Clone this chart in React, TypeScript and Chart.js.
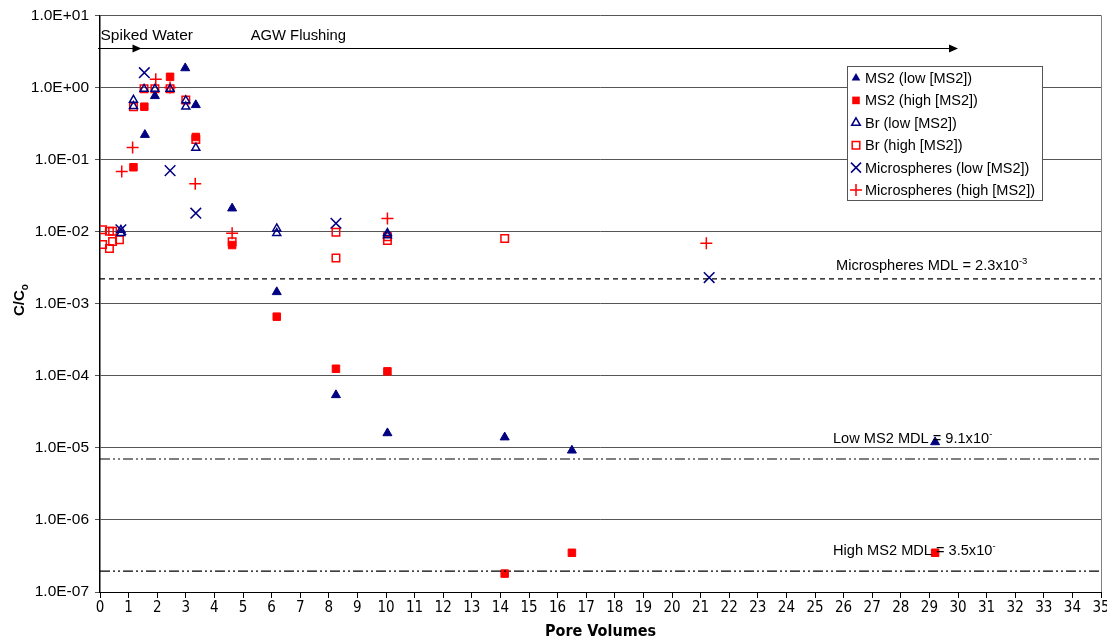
import React, { useEffect, useRef } from "react";
import { Chart, registerables } from "chart.js";

Chart.register(...registerables);

// ---- data ----
const ms2LowX = [1.57, 1.92, 2.98, 3.35, 4.62, 6.18, 8.25, 10.05, 14.15, 16.5, 29.2];
const ms2LowY = [0.22, 0.76, 1.85, 0.57, 0.021, 0.00145, 5.4e-5, 1.6e-5, 1.4e-5, 9.2e-6, 1.2e-5];

const ms2HighX = [1.17, 1.55, 2.45, 3.35, 4.62, 6.18, 8.25, 10.05, 14.15, 16.5, 29.2];
const ms2HighY = [0.078, 0.54, 1.4, 0.205, 0.0065, 0.00066, 1.25e-4, 1.15e-4, 1.8e-7, 3.5e-7, 3.5e-7];

const brLowX = [0.73, 0.73, 1.17, 1.17, 1.54, 1.92, 2.45, 3.0, 3.0, 3.35, 6.18, 6.18, 10.05, 10.05];
const brLowY = [0.0105, 0.0095, 0.67, 0.55, 0.95, 0.95, 0.95, 0.66, 0.54, 0.145, 0.011, 0.0095, 0.0095, 0.0088];

const brHighX = [0.09, 0.33, 0.44, 0.09, 0.33, 0.44, 0.68, 1.17, 1.54, 1.92, 2.45, 3.0, 3.35, 4.62, 8.25, 8.25, 10.05, 10.05, 14.15];
const brHighY = [0.0106, 0.0101, 0.0101, 0.0066, 0.0058, 0.0073, 0.0077, 0.54, 0.96, 0.96, 0.96, 0.67, 0.19, 0.0072, 0.0098, 0.0043, 0.0085, 0.0075, 0.008];

const microLowX = [0.73, 1.55, 2.45, 3.35, 8.25, 21.3];
const microLowY = [0.0106, 1.6, 0.07, 0.018, 0.013, 0.0023];

const microHighX = [0.76, 1.14, 1.95, 2.45, 3.33, 4.62, 10.05, 21.2];
const microHighY = [0.068, 0.147, 1.3, 1.0, 0.046, 0.0095, 0.0152, 0.0069];

const seriesNames = [
  "MS2 (low [MS2])",
  "MS2 (high [MS2])",
  "Br (low [MS2])",
  "Br (high [MS2])",
  "Microspheres (low [MS2])",
  "Microspheres (high [MS2])",
];

const yTickValues = [1e-7, 1e-6, 1e-5, 1e-4, 1e-3, 1e-2, 1e-1, 1, 10];

// detection limits
const microMDL = 2.2e-3;
const lowMDL = 7e-6;
const highMDL = 1.95e-7;
const mdlLabels = [
  { main: "Microspheres MDL = 2.3x10", sup: "-3", y: microMDL },
  { main: "Low MS2 MDL = 9.1x10", sup: "-", y: lowMDL },
  { main: "High MS2 MDL = 3.5x10", sup: "-", y: highMDL },
];

// phase arrow
const arrowY = 3.4;
const arrowStart = 0;
const arrowEnd = 30;
const spikeEnd = 1.45;
const phaseLabels = [
  { text: "Spiked Water", x: 0 },
  { text: "AGW Flushing", x: 5.25 },
];

const NAVY = "#000080";
const RED = "#FF0000";
const FONT = "'Liberation Sans', Arial, sans-serif";
const NARROW = "'DejaVu Sans Condensed', 'Liberation Sans', Arial, sans-serif";

function pts(xs: number[], ys: number[]) {
  return xs.map((x, i) => ({ x, y: ys[i] }));
}

function drawMarker(ctx: CanvasRenderingContext2D, kind: number, x: number, y: number) {
  ctx.save();
  ctx.lineWidth = 1.5;
  ctx.beginPath();
  if (kind === 0 || kind === 2) {
    const r = 5;
    ctx.moveTo(x, y - r);
    ctx.lineTo(x + r * 0.866, y + r * 0.5);
    ctx.lineTo(x - r * 0.866, y + r * 0.5);
    ctx.closePath();
    if (kind === 0) { ctx.fillStyle = NAVY; ctx.fill(); }
    else { ctx.strokeStyle = NAVY; ctx.stroke(); }
  } else if (kind === 1 || kind === 3) {
    const s = 3.8;
    ctx.rect(x - s, y - s, 2 * s, 2 * s);
    if (kind === 1) { ctx.fillStyle = RED; ctx.fill(); }
    else { ctx.strokeStyle = RED; ctx.stroke(); }
  } else if (kind === 4) {
    const s = 5;
    ctx.moveTo(x - s, y - s); ctx.lineTo(x + s, y + s);
    ctx.moveTo(x + s, y - s); ctx.lineTo(x - s, y + s);
    ctx.strokeStyle = NAVY; ctx.stroke();
  } else {
    const s = 6;
    ctx.moveTo(x - s, y); ctx.lineTo(x + s, y);
    ctx.moveTo(x, y - s); ctx.lineTo(x, y + s);
    ctx.strokeStyle = RED; ctx.stroke();
  }
  ctx.restore();
}

const decorPlugin = {
  id: "decor",
  afterDatasetsDraw(chart: any) {
    const ctx: CanvasRenderingContext2D = chart.ctx;
    const xs = chart.scales.x;
    const ys = chart.scales.y;
    const area = chart.chartArea;
    ctx.save();

    // right border
    ctx.strokeStyle = "#808080";
    ctx.lineWidth = 1;
    ctx.beginPath();
    ctx.moveTo(area.right + 0.5, area.top);
    ctx.lineTo(area.right + 0.5, area.bottom);
    ctx.stroke();

    // phase arrow
    const ay = Math.round(ys.getPixelForValue(arrowY)) - 0.5;
    const ax0 = xs.getPixelForValue(arrowStart) - 2;
    const ax1 = xs.getPixelForValue(arrowEnd);
    ctx.strokeStyle = "#000";
    ctx.fillStyle = "#000";
    ctx.lineWidth = 1;
    ctx.beginPath();
    ctx.moveTo(ax0, ay);
    ctx.lineTo(ax1 - 8, ay);
    ctx.stroke();
    const head = (xp: number) => {
      ctx.beginPath();
      ctx.moveTo(xp, ay);
      ctx.lineTo(xp - 9, ay - 4);
      ctx.lineTo(xp - 9, ay + 4);
      ctx.closePath();
      ctx.fill();
    };
    head(ax1);
    head(xs.getPixelForValue(spikeEnd));

    ctx.textBaseline = "alphabetic";
    ctx.textAlign = "left";
    ctx.font = `15.5px ${FONT}`;
    ctx.fillText(phaseLabels[0].text, xs.getPixelForValue(phaseLabels[0].x) + 0.5, ay - 9);
    ctx.font = `14.8px ${FONT}`;
    ctx.fillText(phaseLabels[1].text, xs.getPixelForValue(phaseLabels[1].x) + 0.5, ay - 9);

    // MDL labels
    mdlLabels.forEach((m) => {
      const py = ys.getPixelForValue(m.y);
      ctx.font = `14.6px ${FONT}`;
      const w = ctx.measureText(m.main).width;
      const isMicro = m.sup === "-3";
      const x0 = isMicro ? 836 : 833;
      const base = isMicro ? py - 9 : py - 16;
      ctx.fillText(m.main, x0, base);
      ctx.font = `9.5px ${FONT}`;
      ctx.fillText(m.sup, x0 + w, base - 6);
    });

    // legend
    const lx = 847, ly = 66, lw = 195, lh = 134;
    ctx.fillStyle = "#fff";
    ctx.fillRect(lx, ly, lw, lh);
    ctx.strokeStyle = "#555";
    ctx.lineWidth = 1;
    ctx.strokeRect(lx + 0.5, ly + 0.5, lw, lh);
    ctx.font = `14.5px ${FONT}`;
    ctx.fillStyle = "#000";
    ctx.textBaseline = "middle";
    seriesNames.forEach((n, i) => {
      const yy = 78 + i * 22.4;
      drawMarker(ctx, i, 856, yy);
      ctx.fillStyle = "#000";
      ctx.fillText(n, 865, yy + 1);
    });

    // y title C/Co
    ctx.save();
    ctx.translate(24, 300);
    ctx.rotate(-Math.PI / 2);
    ctx.textAlign = "left";
    ctx.textBaseline = "alphabetic";
    ctx.font = `bold 15px ${FONT}`;
    const t = "C/C";
    const tw = ctx.measureText(t).width;
    ctx.font = `bold 10px ${FONT}`;
    const sw = ctx.measureText("o").width;
    ctx.font = `bold 15px ${FONT}`;
    const start = -(tw + sw) / 2;
    ctx.fillText(t, start, 0);
    ctx.font = `bold 10px ${FONT}`;
    ctx.fillText("o", start + tw, 4);
    ctx.restore();

    ctx.restore();
  },
};

export default function App() {
  const ref = useRef<HTMLCanvasElement | null>(null);
  useEffect(() => {
    if (!ref.current) return;
    const base = { showLine: false, pointBorderWidth: 1.5 };
    const mdl = (y: number, dash: number[]) => ({
      type: "line" as const,
      data: [{ x: 0, y }, { x: 35, y }],
      borderColor: "#000",
      borderWidth: 1.2,
      borderDash: dash,
      pointRadius: 0,
      fill: false,
    });
    const dashDot = [10, 3, 2, 3, 2, 3];
    const chart = new Chart(ref.current, {
      type: "scatter",
      data: {
        datasets: [
          mdl(microMDL, [5, 4]),
          mdl(lowMDL, dashDot),
          mdl(highMDL, dashDot),
          { ...base, label: seriesNames[0], data: pts(ms2LowX, ms2LowY), pointStyle: "triangle", pointRadius: 5.2, backgroundColor: NAVY, borderColor: NAVY, pointBorderWidth: 1 },
          { ...base, label: seriesNames[1], data: pts(ms2HighX, ms2HighY), pointStyle: "rect", pointRadius: 5.3, backgroundColor: RED, borderColor: RED, pointBorderWidth: 1 },
          { ...base, label: seriesNames[2], data: pts(brLowX, brLowY), pointStyle: "triangle", pointRadius: 4.6, backgroundColor: "rgba(0,0,0,0)", borderColor: NAVY },
          { ...base, label: seriesNames[3], data: pts(brHighX, brHighY), pointStyle: "rect", pointRadius: 5.3, backgroundColor: "rgba(0,0,0,0)", borderColor: RED },
          { ...base, label: seriesNames[4], data: pts(microLowX, microLowY), pointStyle: "crossRot", pointRadius: 7.5, backgroundColor: NAVY, borderColor: NAVY },
          { ...base, label: seriesNames[5], data: pts(microHighX, microHighY), pointStyle: "cross", pointRadius: 6, backgroundColor: RED, borderColor: RED },
        ] as any,
      },
      options: {
        animation: false,
        responsive: false,
        events: [],
        layout: { autoPadding: false, padding: { top: 13, right: 6, left: 0, bottom: 0 } },
        plugins: { legend: { display: false }, tooltip: { enabled: false } },
        scales: {
          x: {
            type: "linear",
            min: 0,
            max: 35,
            afterFit: (s: any) => { s.height = 49; s.paddingLeft = 0; s.paddingRight = 0; },
            ticks: {
              stepSize: 1,
              autoSkip: false,
              maxRotation: 0,
              color: "#000",
              padding: 1,
              font: { family: NARROW, size: 15 },
            },
            grid: { drawOnChartArea: false, color: "#000", tickLength: 6 },
            border: { color: "#000", width: 1 },
            title: {
              display: true,
              text: "Pore Volumes",
              color: "#000",
              padding: { top: -4, bottom: 0 },
              font: { family: NARROW, size: 16, weight: "bold" },
            },
          },
          y: {
            type: "logarithmic",
            min: 1e-7,
            max: 10,
            afterFit: (s: any) => { s.width = 100; },
            afterBuildTicks: (s: any) => { s.ticks = yTickValues.map((v) => ({ value: v })); },
            ticks: {
              color: "#000",
              padding: 6,
              font: { family: FONT, size: 15.5 },
              callback: (v: any) => {
                const e = Math.round(Math.log10(Number(v)));
                return "1.0E" + (e < 0 ? "-" : "+") + String(Math.abs(e)).padStart(2, "0");
              },
            },
            grid: { color: "#555", tickLength: 5 },
            border: { color: "#000", width: 1.5 },
          },
        },
      },
      plugins: [decorPlugin],
    } as any);
    return () => chart.destroy();
  }, []);
  return (
    <div style={{ position: "fixed", left: 0, top: 0, width: 1107, height: 641, background: "#fff" }}>
      <canvas ref={ref} width={1107} height={641} style={{ width: 1107, height: 641 }} />
    </div>
  );
}
